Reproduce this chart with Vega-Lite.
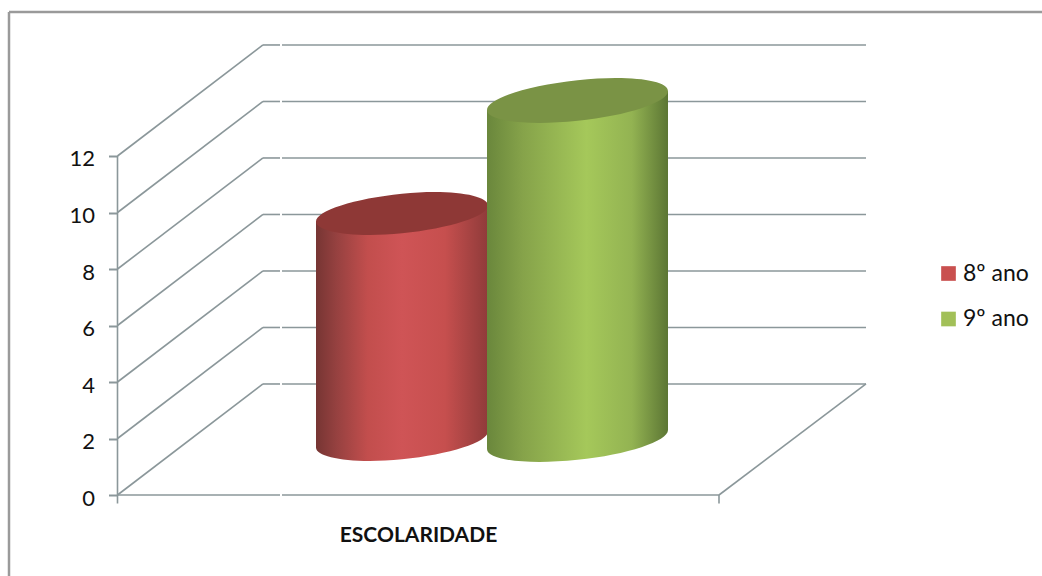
{
"$schema":"https://vega.github.io/schema/vega-lite/v6.json",
"width":1042,"height":576,"padding":0,"autosize":{"type":"none"},"background":"white",
"config":{"view":{"stroke":null},"font":"Lato"},
"datasets":{
"bars":[{"series":"8º ano","value":8},{"series":"9º ano","value":12}],
"sides":[{"series":"8º ano","x":316,"top":7.72,"base":-0.28},{"series":"8º ano","x":488,"top":8.28,"base":0.28},{"series":"9º ano","x":487,"top":11.66,"base":-0.34},{"series":"9º ano","x":668,"top":12.34,"base":0.34}],
"frame":[{"x":9,"x2":9,"y":17.1,"y2":-2.867},{"x":9,"x2":1042,"y":17.1,"y2":17.1}],
"walls":[
{"x":117.5,"x2":263,"y":0,"y2":3.93},{"x":117.5,"x2":263,"y":2,"y2":5.93},{"x":117.5,"x2":263,"y":4,"y2":7.93},{"x":117.5,"x2":263,"y":6,"y2":9.93},{"x":117.5,"x2":263,"y":8,"y2":11.93},{"x":117.5,"x2":263,"y":10,"y2":13.93},{"x":117.5,"x2":263,"y":12,"y2":15.93},
{"x":263,"x2":280,"y":3.93,"y2":3.93},{"x":282,"x2":866,"y":3.93,"y2":3.93},
{"x":263,"x2":280,"y":5.93,"y2":5.93},{"x":282,"x2":866,"y":5.93,"y2":5.93},
{"x":263,"x2":280,"y":7.93,"y2":7.93},{"x":282,"x2":866,"y":7.93,"y2":7.93},
{"x":263,"x2":280,"y":9.93,"y2":9.93},{"x":282,"x2":866,"y":9.93,"y2":9.93},
{"x":263,"x2":280,"y":11.93,"y2":11.93},{"x":282,"x2":866,"y":11.93,"y2":11.93},
{"x":263,"x2":280,"y":13.93,"y2":13.93},{"x":282,"x2":866,"y":13.93,"y2":13.93},
{"x":263,"x2":280,"y":15.93,"y2":15.93},{"x":282,"x2":866,"y":15.93,"y2":15.93},
{"x":117.5,"x2":280,"y":0,"y2":0},{"x":282,"x2":719,"y":0,"y2":0},
{"x":719,"x2":866,"y":0,"y2":3.93},
{"x":117.5,"x2":117.5,"y":12,"y2":-0.3},{"x":719,"x2":719,"y":0,"y2":-0.3}
]},
"resolve":{"scale":{"x":"independent","y":"independent"}},
"layer":[
{"data":{"name":"bars"},"mark":{"type":"point","filled":true,"shape":"square","size":1,"opacity":1},
 "encoding":{"x":{"field":"series","type":"nominal","axis":null,"scale":{"type":"point","padding":0,"range":[402,577.5]}},
 "y":{"field":"value","type":"quantitative","axis":null,"scale":{"domain":[-4.832,15.557],"range":[576,0]}},
 "color":{"field":"series","type":"nominal","scale":{"domain":["8º ano","9º ano"],"range":["#c9504f","#a2c058"]},
 "legend":{"orient":"none","legendX":937,"legendY":262,"title":null,"symbolType":"square","symbolSize":215,"symbolStrokeWidth":0,"symbolOpacity":1,"labelFontSize":23,"labelFont":"Lato","labelColor":"#111","labelOffset":3,"rowPadding":21.5,"labelLimit":120}}}},
{"data":{"name":"frame"},"mark":{"type":"rule","stroke":"#9a9a9a","strokeWidth":2.5},
 "encoding":{"x":{"field":"x","type":"quantitative","axis":null,"scale":{"domain":[0,1042],"range":[0,1042]}},"x2":{"field":"x2"},
 "y":{"field":"y","type":"quantitative","axis":null,"scale":{"domain":[-2.867,17.522],"range":[576,0]}},"y2":{"field":"y2"}}},
{"data":{"name":"walls"},"mark":{"type":"rule","stroke":"#8b979a","strokeWidth":1.6},
 "encoding":{"x":{"field":"x","type":"quantitative","scale":{"domain":[0,1042],"range":[0,1042]},
 "axis":{"values":[],"title":"ESCOLARIDADE","domain":false,"ticks":false,"labels":false,"grid":false,"titleFont":"Lato","titleFontSize":21,"titleFontWeight":"bold","titleColor":"#111","titleX":418,"titleY":-41,"titleBaseline":"middle","titleAnchor":"middle"}},"x2":{"field":"x2"},
 "y":{"field":"y","type":"quantitative","scale":{"domain":[-2.867,17.522],"range":[576,0]},
 "axis":{"values":[0,2,4,6,8,10,12],"title":null,"offset":-117.5,"domain":false,"grid":false,"tickSize":9,"tickColor":"#8b979a","tickWidth":2,"labelFont":"Lato","labelFontSize":22,"labelColor":"#111","labelPadding":14,"labelOffset":3}},"y2":{"field":"y2"}}},
{"data":{"name":"sides"},"transform":[{"filter":{"field":"series","equal":"8º ano"}}],
 "mark":{"type":"area","orient":"vertical","fill":{"x1":0,"y1":0,"x2":1,"y2":0,"gradient":"linear","stops":[{"offset":0,"color":"#763533"},{"offset":0.12,"color":"#964140"},{"offset":0.3,"color":"#c24e4d"},{"offset":0.5,"color":"#cf5456"},{"offset":0.75,"color":"#c64f4e"},{"offset":1,"color":"#8f3b3a"}]}},
 "encoding":{"x":{"field":"x","type":"quantitative","axis":null,"scale":{"domain":[0,1042],"range":[0,1042]}},
 "y":{"field":"top","type":"quantitative","stack":null,"axis":null,"scale":{"domain":[-4.832,15.557],"range":[576,0]}},"y2":{"field":"base"}}},
{"data":{"name":"bars"},"transform":[{"filter":{"field":"series","equal":"8º ano"}}],
 "mark":{"type":"point","filled":true,"opacity":1,"size":29584,"shape":"M1,-0.093C1,0.031,0.5523,0.174,0,0.23C-0.5523,0.286,-1,0.217,-1,0.093C-1,-0.031,-0.5523,-0.174,0,-0.23C0.5523,-0.286,1,-0.217,1,-0.093Z","fill":{"x1":0,"y1":0,"x2":1,"y2":0,"gradient":"linear","stops":[{"offset":0,"color":"#763533"},{"offset":0.12,"color":"#964140"},{"offset":0.3,"color":"#c24e4d"},{"offset":0.5,"color":"#cf5456"},{"offset":0.75,"color":"#c64f4e"},{"offset":1,"color":"#8f3b3a"}]}},
 "encoding":{"x":{"field":"series","type":"nominal","axis":null,"scale":{"type":"point","padding":0,"domain":["8º ano","9º ano"],"range":[402,577.5]}},
 "y":{"datum":0,"type":"quantitative","axis":null,"scale":{"domain":[-4.832,15.557],"range":[576,0]}}}},
{"data":{"name":"bars"},"transform":[{"filter":{"field":"series","equal":"8º ano"}}],
 "mark":{"type":"point","filled":true,"opacity":1,"size":29584,"shape":"M1,-0.093C1,0.031,0.5523,0.174,0,0.23C-0.5523,0.286,-1,0.217,-1,0.093C-1,-0.031,-0.5523,-0.174,0,-0.23C0.5523,-0.286,1,-0.217,1,-0.093Z","fill":"#8e3836"},
 "encoding":{"x":{"field":"series","type":"nominal","axis":null,"scale":{"type":"point","padding":0,"domain":["8º ano","9º ano"],"range":[402,577.5]}},
 "y":{"field":"value","type":"quantitative","axis":null,"scale":{"domain":[-4.832,15.557],"range":[576,0]}}}},
{"data":{"name":"sides"},"transform":[{"filter":{"field":"series","equal":"9º ano"}}],
 "mark":{"type":"area","orient":"vertical","fill":{"x1":0,"y1":0,"x2":1,"y2":0,"gradient":"linear","stops":[{"offset":0,"color":"#6a873c"},{"offset":0.2,"color":"#86a34a"},{"offset":0.55,"color":"#a5c85a"},{"offset":0.8,"color":"#93b352"},{"offset":1,"color":"#5c7634"}]}},
 "encoding":{"x":{"field":"x","type":"quantitative","axis":null,"scale":{"domain":[0,1042],"range":[0,1042]}},
 "y":{"field":"top","type":"quantitative","stack":null,"axis":null,"scale":{"domain":[-4.832,15.557],"range":[576,0]}},"y2":{"field":"base"}}},
{"data":{"name":"bars"},"transform":[{"filter":{"field":"series","equal":"9º ano"}}],
 "mark":{"type":"point","filled":true,"opacity":1,"size":32761,"shape":"M1,-0.105C1,0.0193,0.5523,0.167,0,0.225C-0.5523,0.283,-1,0.2293,-1,0.105C-1,-0.0193,-0.5523,-0.167,0,-0.225C0.5523,-0.283,1,-0.2293,1,-0.105Z","fill":{"x1":0,"y1":0,"x2":1,"y2":0,"gradient":"linear","stops":[{"offset":0,"color":"#6a873c"},{"offset":0.2,"color":"#86a34a"},{"offset":0.55,"color":"#a5c85a"},{"offset":0.8,"color":"#93b352"},{"offset":1,"color":"#5c7634"}]}},
 "encoding":{"x":{"field":"series","type":"nominal","axis":null,"scale":{"type":"point","padding":0,"domain":["8º ano","9º ano"],"range":[402,577.5]}},
 "y":{"datum":0,"type":"quantitative","axis":null,"scale":{"domain":[-4.832,15.557],"range":[576,0]}}}},
{"data":{"name":"bars"},"transform":[{"filter":{"field":"series","equal":"9º ano"}}],
 "mark":{"type":"point","filled":true,"opacity":1,"size":32761,"shape":"M1,-0.105C1,0.0193,0.5523,0.167,0,0.225C-0.5523,0.283,-1,0.2293,-1,0.105C-1,-0.0193,-0.5523,-0.167,0,-0.225C0.5523,-0.283,1,-0.2293,1,-0.105Z","fill":"#7a9345"},
 "encoding":{"x":{"field":"series","type":"nominal","axis":null,"scale":{"type":"point","padding":0,"domain":["8º ano","9º ano"],"range":[402,577.5]}},
 "y":{"field":"value","type":"quantitative","axis":null,"scale":{"domain":[-4.832,15.557],"range":[576,0]}}}}
]}
